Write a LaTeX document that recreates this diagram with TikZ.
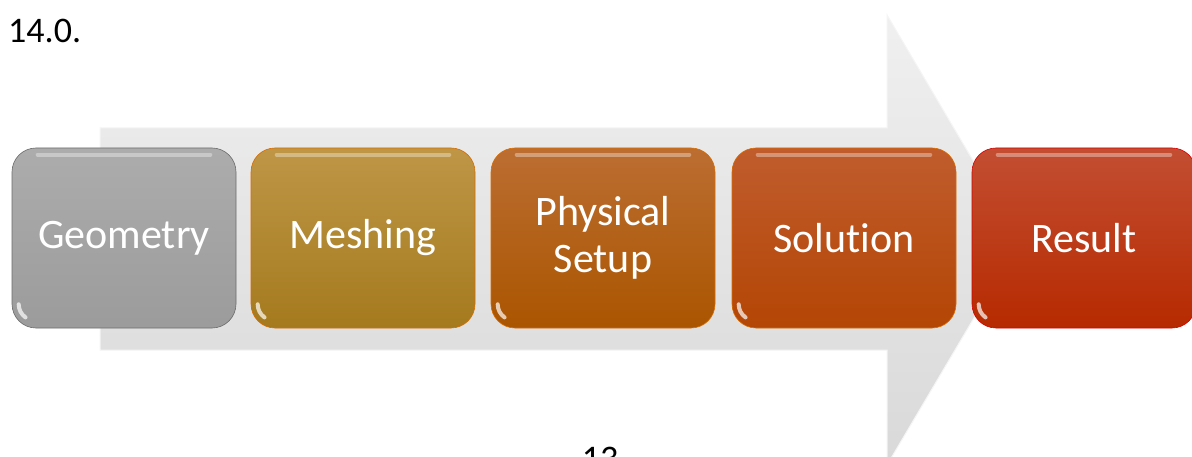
\documentclass[tikz,border=0pt]{standalone}
\usepackage{fontspec}
\setmainfont[Ligatures={NoCommon}]{Carlito}
\usetikzlibrary{shadings}
\begin{document}
\begin{tikzpicture}[x=1pt,y=-1pt,
  stepbox/.style={minimum width=224pt,minimum height=180pt,rounded corners=24pt,
    text=white,font=\fontsize{42}{47}\selectfont,align=center,inner sep=0pt,
    draw=#1!85!black,line width=0.6pt},
  hilite/.style={white,opacity=0.35,line width=4pt,line cap=round}]
\useasboundingbox (0,0) rectangle (1192,457);
\clip (0,0) rectangle (1192,457);
\fill[white] (0,0) rectangle (1192,457);
% big arrow
\shade[top color=gray!12,bottom color=gray!30,draw=gray!8,line width=1pt]
  (100,128) -- (887,128) -- (887,15) -- (1020,240) -- (887,465) -- (887,350) -- (100,350) -- cycle;
% boxes
\node[stepbox=gray,top color=gray!65,bottom color=gray!78] (geo) at (124,238) {Geometry};
\node[stepbox=orange,top color={rgb,255:red,190;green,150;blue,70},bottom color={rgb,255:red,165;green,122;blue,30}] (mesh) at (363,238) {Meshing};
\node[stepbox=orange,top color={rgb,255:red,188;green,110;blue,50},bottom color={rgb,255:red,170;green,85;blue,0}] (phys) at (603,238) {Physical\\Setup};
\node[stepbox=orange,top color={rgb,255:red,192;green,92;blue,45},bottom color={rgb,255:red,180;green,70;blue,5}] (sol) at (844,238) {Solution};
\node[stepbox=red,top color={rgb,255:red,195;green,78;blue,50},bottom color={rgb,255:red,182;green,42;blue,0}] (res) at (1084,238) {Result};
% glossy highlights
\foreach \n in {geo,mesh,phys,sol,res}{
  \draw[hilite] ([xshift=26pt,yshift=-7pt]\n.north west) -- ([xshift=-26pt,yshift=-7pt]\n.north east);
  \draw[white,opacity=0.7,line width=4pt,line cap=round] ([xshift=7pt,yshift=24pt]\n.south west) arc[start angle=180,end angle=235,radius=16pt];
}
% texts
\node[anchor=base west,inner sep=0pt,font=\fontsize{36}{40}\selectfont] (num) at (8,43) {14.0.};
\node[anchor=base,inner sep=0pt,font=\fontsize{36}{40}\selectfont] (page) at (600,470) {13};
\end{tikzpicture}
\end{document}
